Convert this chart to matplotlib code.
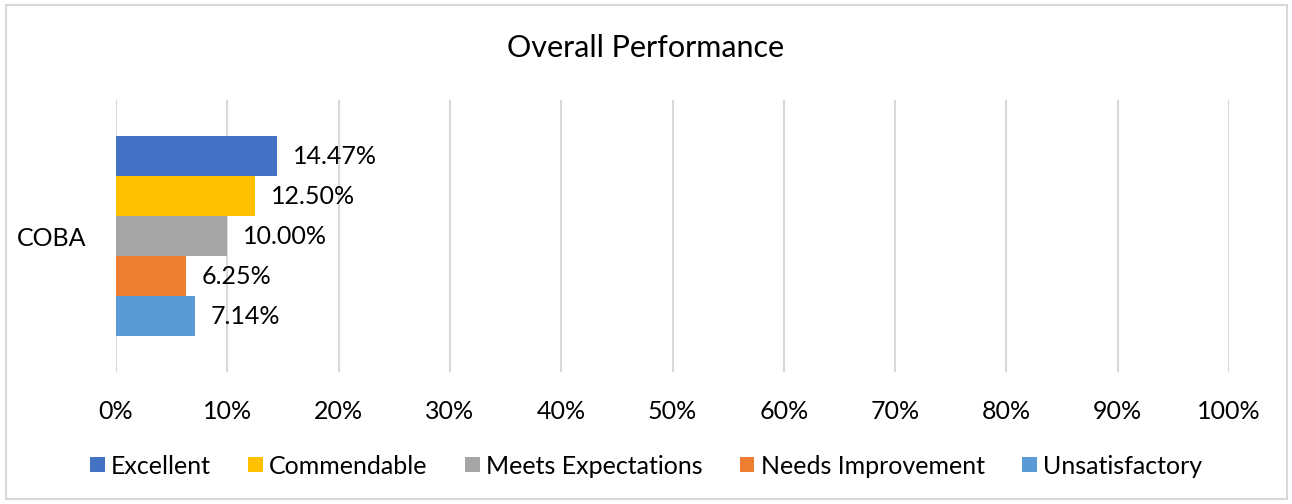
import matplotlib.pyplot as plt
from matplotlib.patches import Rectangle
from matplotlib.ticker import PercentFormatter

plt.rcParams['font.family'] = ['Lato', 'DejaVu Sans']

category = 'COBA'
ratings = ['Excellent', 'Commendable', 'Meets Expectations',
           'Needs Improvement', 'Unsatisfactory']
shares = [14.47, 12.50, 10.00, 6.25, 7.14]
colors = ['#4472C4', '#FFC000', '#A5A5A5', '#ED7D31', '#5B9BD5']
x_ticks = [0, 10, 20, 30, 40, 50, 60, 70, 80, 90, 100]

fig = plt.figure(figsize=(12.92, 5.04), dpi=100)
ax = fig.add_axes([116 / 1292, 1 - 372 / 504, 1113 / 1292, 272 / 504])

# light frame around the whole chart
fig.patches.append(Rectangle((6 / 1292, 5 / 504), 1281 / 1292, 494 / 504,
                             transform=fig.transFigure, fill=False,
                             edgecolor='#D9D9D9', linewidth=1.5))

bar_h = 0.2
n = len(ratings)
for i, (label, val, c) in enumerate(zip(ratings, shares, colors)):
    y = (n - 1) / 2 * bar_h - i * bar_h
    ax.barh(y, val, height=bar_h, color=c, label=label)
    ax.text(val + 1.4, y, f'{val:.2f}%', va='center', ha='left', fontsize=18)

ax.set_xlim(0, 100)
ax.set_ylim(-0.68, 0.68)
ax.set_xticks(x_ticks)
ax.xaxis.set_major_formatter(PercentFormatter(decimals=0))
ax.set_yticks([0])
ax.set_yticklabels([category])
ax.tick_params(axis='both', length=0, labelsize=18)
ax.tick_params(axis='x', pad=20)
ax.tick_params(axis='y', pad=21)
ax.grid(axis='x', color='#D9D9D9', linewidth=1.5)
ax.set_axisbelow(True)
for s in ax.spines.values():
    s.set_visible(False)

fig.text(0.5, 1 - 48 / 504, 'Overall Performance', ha='center', va='center',
         fontsize=22)

fig.legend(loc='center', bbox_to_anchor=(0.5, 1 - 466 / 504), ncol=5,
           frameon=False, fontsize=18, handlelength=0.58, handleheight=0.58,
           handletextpad=0.25, columnspacing=1.5)

fig.savefig('out.png', dpi=100)
